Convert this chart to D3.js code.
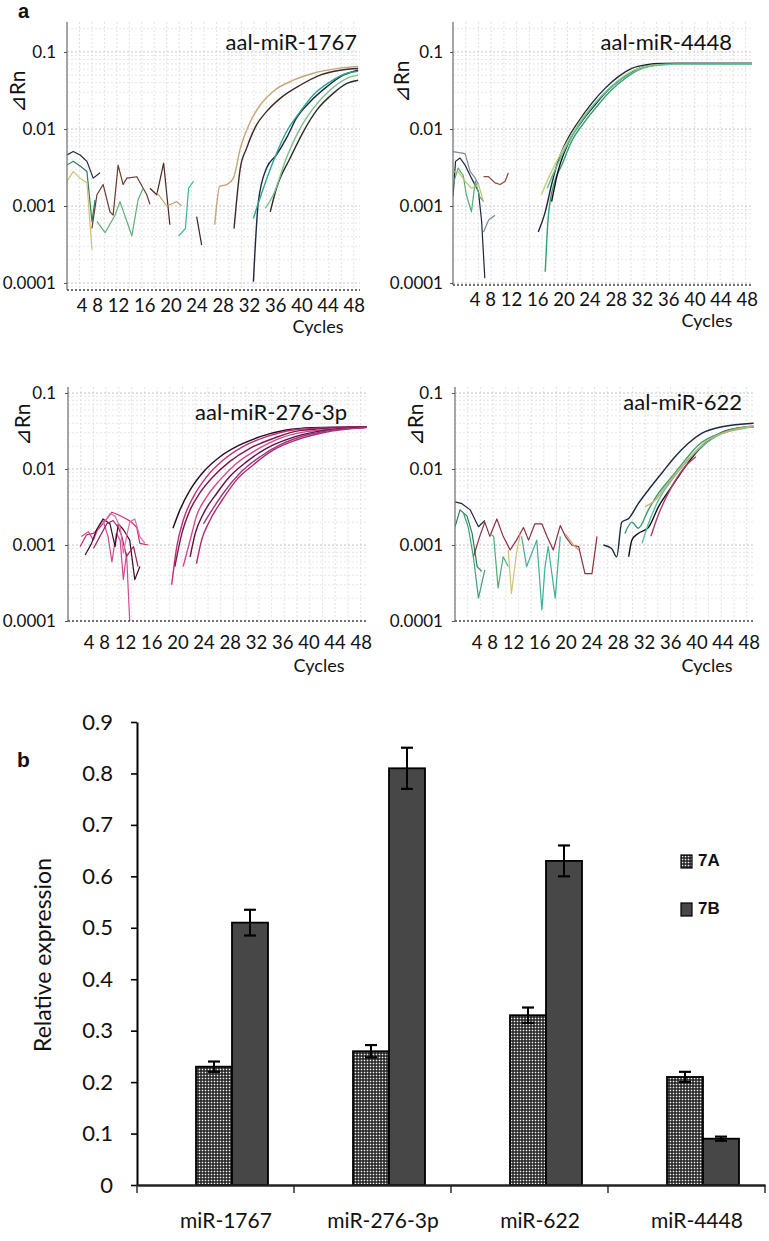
<!DOCTYPE html>
<html><head><meta charset="utf-8">
<script src="https://cdn.jsdelivr.net/npm/d3@7"></script>
<style>body{margin:0;background:#fff}</style>
</head><body><svg id="c" width="769" height="1241" xmlns="http://www.w3.org/2000/svg"></svg>
<script>
// ---------------- DATA ----------------
const cycleTicks = [4, 8, 12, 16, 20, 24, 28, 32, 36, 40, 44, 48];
const dRnTicks = [0.1, 0.01, 0.001, 0.0001];
const dRnTickLabels = ["0.1", "0.01", "0.001", "0.0001"];
const panelTitles = ["aal-miR-1767", "aal-miR-4448", "aal-miR-276-3p", "aal-miR-622"];

// aal-miR-1767 : [cycle, ΔRn]
const amp1767 = [
  [[24.7,0.00057],[25.5,0.0018],[26.6,0.0019],[27.7,0.0023],[28.8,0.0056],[30.4,0.0124],[32,0.0205],[34.1,0.031],[37.3,0.043],[40.5,0.053],[43.7,0.06],[47.7,0.065]],
  [[27.8,0.00051],[28.8,0.0031],[29.8,0.0056],[31.4,0.0113],[33,0.0168],[35.2,0.025],[38.4,0.037],[41.6,0.05],[44.8,0.058],[47.7,0.061]],
  [[30.9,0.000104],[31.7,0.00114],[33,0.0031],[34.6,0.0046],[36.2,0.0076],[37.8,0.0138],[40,0.0226],[42.7,0.0355],[45.3,0.05],[47.7,0.058]],
  [[30.9,0.00069],[32.5,0.0017],[34.1,0.0038],[36.2,0.0092],[38.4,0.0168],[40.5,0.0277],[43.2,0.041],[45.9,0.053],[47.7,0.056]],
  [[33.6,0.00084],[34.6,0.0017],[36.8,0.0042],[38.9,0.0092],[41.1,0.0177],[43.7,0.029],[45.9,0.039],[47.7,0.043]],
  [[32.8,0.00093],[34.1,0.0014],[36.2,0.0042],[38.4,0.0102],[40.5,0.0185],[43.2,0.032],[45.9,0.0455],[47.7,0.05]]
];
const base1767 = [
  [[1,0.0046],[2,0.0051],[3.1,0.0046],[4.2,0.0038],[5.2,0.0023],[6.3,0.0027]],
  [[1,0.0034],[2,0.0038],[3.1,0.0033],[4.2,0.0028],[5,0.00063],[5.5,0.0012]],
  [[1,0.0021],[2,0.0028],[3.1,0.0023],[4.2,0.002],[5,0.00027]],
  [[5,0.00051],[5.8,0.0014],[6.8,0.0019],[7.9,0.00084],[8.4,0.00076],[9.2,0.0034],[10,0.0019],[10.6,0.0023],[12.2,0.0024],[13.8,0.0014],[14.3,0.00105]],
  [[5.8,0.00063],[7.1,0.00045],[8.7,0.00076],[9.5,0.00114],[11.4,0.00041],[12.4,0.0012],[13.2,0.0017]],
  [[14.3,0.0017],[15.4,0.0014],[16.5,0.0036],[17.5,0.00057]],
  [[15.4,0.0015],[17,0.001],[18.6,0.00114],[19.4,0.001]],
  [[18.9,0.00041],[20,0.00051],[20.5,0.0017],[21.3,0.0021]],
  [[21.8,0.00073],[22.6,0.00031]]
];
// aal-miR-4448
const amp4448 = [
  [[14.4,0.00046],[15.5,0.00084],[16.5,0.0019],[17.5,0.0038],[19.1,0.0076],[20.7,0.0124],[22.8,0.0215],[24.9,0.0337],[27,0.0478],[29.1,0.0614],[31.2,0.068],[33.8,0.071],[48,0.071]],
  [[15.5,0.00014],[16,0.00076],[17,0.0021],[18.1,0.0034],[19.6,0.0068],[21.7,0.0124],[23.8,0.0205],[25.9,0.032],[28,0.045],[30.1,0.058],[32.2,0.066],[36.4,0.07],[48,0.07]],
  [[16.5,0.00114],[17.5,0.0028],[19.1,0.0065],[21.2,0.0124],[23.3,0.0205],[25.4,0.032],[27.5,0.045],[29.6,0.058],[32.2,0.068],[36.4,0.071],[48,0.071]],
  [[14.9,0.0014],[16,0.0023],[17.5,0.0041],[19.6,0.0083],[21.7,0.0152],[23.8,0.0239],[25.9,0.0355],[28,0.05],[30.6,0.063],[33.8,0.069],[48,0.07]],
  [[15.8,0.0017],[17,0.0029],[18.6,0.0055],[20.7,0.011],[22.8,0.019],[24.9,0.03],[27,0.042],[29.6,0.056],[32.2,0.066],[36,0.07],[48,0.07]]
];
const base4448 = [
  [[1,0.0051],[2.9,0.0048],[3.7,0.0028],[4.5,0.0023],[5,0.0019]],
  [[1,0.00132],[1.4,0.0038],[2.1,0.0042],[2.9,0.0034],[3.9,0.0023],[5,0.00154],[5.5,0.00063],[6,0.000115]],
  [[1,0.0019],[1.8,0.0031],[2.6,0.0025],[3.1,0.0014],[3.9,0.00084],[4.5,0.0021],[5.2,0.00132],[5.8,0.00114]],
  [[1,0.0028],[1.8,0.0028],[2.9,0.0021],[3.9,0.0017],[5,0.0019],[5.8,0.00114]],
  [[5.8,0.0024],[6.6,0.0024],[7.6,0.002],[8.4,0.0019],[9.2,0.0021],[9.7,0.0027]],
  [[5.8,0.00046],[6.6,0.00066],[7.6,0.00076]]
];
// aal-miR-276-3p
const amp276 = [
  [[17.5,0.00166],[18.6,0.0029],[20.2,0.0053],[22.3,0.0092],[24.9,0.0145],[28,0.0207],[31.2,0.0266],[35.3,0.0326],[39.5,0.035],[47.9,0.036]],
  [[17.3,0.0003],[18.1,0.00095],[19.1,0.0021],[20.7,0.0043],[22.8,0.0079],[25.4,0.0131],[28.5,0.0197],[32.2,0.0266],[36.4,0.0326],[41.6,0.035],[47.9,0.036]],
  [[17.8,0.00052],[18.9,0.00142],[20.2,0.0029],[21.7,0.0048],[23.8,0.0079],[26.4,0.0125],[29.6,0.0187],[33.3,0.0253],[37.4,0.032],[47.9,0.036]],
  [[19.1,0.00052],[20.2,0.00116],[21.2,0.0024],[22.8,0.0043],[24.9,0.0072],[27.5,0.0119],[30.6,0.0178],[34.3,0.0253],[38.5,0.031],[47.9,0.0355]],
  [[20.2,0.0007],[21,0.00142],[22.3,0.0026],[24.4,0.0048],[26.4,0.0079],[29.1,0.0125],[32.2,0.0187],[35.9,0.0253],[40.1,0.031],[47.9,0.0355]],
  [[21.2,0.00057],[22,0.00116],[23.3,0.0021],[25.4,0.0041],[27.5,0.0072],[30.1,0.0113],[33.3,0.0178],[36.9,0.0241],[41.1,0.03],[47.9,0.0353]],
  [[22.3,0.0019],[23.3,0.0026],[25.4,0.0048],[28,0.0088],[31.2,0.0145],[34.3,0.0207],[38.5,0.028],[42.7,0.0326],[47.9,0.035]]
];
const base276 = [
  [[2.9,0.00095],[3.9,0.00136],[5,0.00142],[6,0.0017],[7.1,0.0022],[7.9,0.0027],[8.9,0.0025],[10.2,0.0022],[11,0.002],[11.8,0.0017],[12.3,0.00105],[13.6,0.001]],
  [[3.1,0.00129],[4.2,0.0015],[5,0.00116],[5.8,0.0017],[6.5,0.0021],[7.3,0.00129],[7.9,0.0006],[8.6,0.00142],[9.2,0.00116],[9.7,0.00035],[10.2,0.00078],[10.7,0.0001]],
  [[3.7,0.00074],[4.7,0.00105],[5.5,0.0016],[6.5,0.0022],[7.6,0.0019],[8.4,0.00095],[8.9,0.0019],[9.7,0.0016],[10.7,0.00116],[11.5,0.00035],[12.3,0.00052]],
  [[5,0.0009],[6,0.00129],[7.1,0.0019],[8.1,0.0021],[8.9,0.0017],[9.4,0.00136],[10.2,0.00071],[11.3,0.00095],[12,0.00052]],
  [[6.5,0.0019],[7.6,0.0026],[8.4,0.0024],[9.2,0.0017],[9.7,0.00078],[10.2,0.00129],[10.7,0.002],[11.5,0.0022],[12.3,0.00129],[13.1,0.00105]]
];
// aal-miR-622
const amp622 = [
  [[24.4,0.001],[25.7,0.0009],[26.5,0.0007],[27.3,0.002],[28.4,0.00224],[29.9,0.0035],[31.5,0.0053],[33.6,0.0088],[35.7,0.0145],[37.8,0.0218],[39.9,0.0294],[43.1,0.036],[48.1,0.04]],
  [[28.4,0.0007],[28.9,0.00116],[29.9,0.00142],[31.5,0.0017],[33.1,0.0032],[35.2,0.0059],[37.3,0.0107],[39.4,0.0178],[41.5,0.0253],[44.2,0.0326],[48.1,0.036]],
  [[27.8,0.00142],[28.9,0.002],[29.9,0.00166],[31.5,0.0029],[33.1,0.0048],[35.2,0.0079],[37.3,0.0131],[39.4,0.0207],[42.1,0.028],[44.7,0.0333],[48.1,0.0368]],
  [[30.5,0.00105],[31.5,0.0019],[33.1,0.0039],[35.2,0.0072],[37.3,0.0119],[39.9,0.0197],[42.6,0.028],[45.2,0.0326],[48.1,0.036]],
  [[31,0.0032],[32.6,0.0039],[34.2,0.0059],[36.3,0.0097],[38.4,0.0153],[40.5,0.0228],[43.1,0.0294],[48.1,0.0368]],
  [[31.9,0.0013],[33,0.0024],[35.2,0.0059],[37.5,0.0112],[39,0.0145]]
];
const base622 = [
  [[1,0.0037],[2.1,0.0035],[3.4,0.0029],[4.7,0.00174],[5.7,0.0021]],
  [[1,0.00174],[1.8,0.0029],[2.9,0.0024],[3.7,0.00142],[4.5,0.00052],[5.2,0.00045]],
  [[3.9,0.0007],[4.9,0.0013],[5.7,0.002],[6.5,0.0013],[7.6,0.0022],[8.6,0.0013],[9.7,0.00086],[10.7,0.00116],[11.8,0.0017],[12.6,0.00116],[13.6,0.0019],[14.7,0.0019],[15.5,0.0013],[16.5,0.00086],[17.6,0.0018],[18.4,0.0013],[19.4,0.001],[20.5,0.00095],[21.5,0.00042],[22.6,0.00042],[23.4,0.0013]],
  [[2.3,0.0027],[3.1,0.0017],[3.9,0.0007],[4.7,0.0002],[5.7,0.00047]],
  [[6.5,0.0014],[7.1,0.0013],[7.8,0.00027],[8.6,0.0007],[9.4,0.00052]],
  [[9.4,0.00086],[9.9,0.00023],[10.7,0.00078],[11.3,0.0014]],
  [[11.5,0.0013],[12.3,0.00052],[13.1,0.00078],[13.9,0.00116],[14.7,0.00014],[15.2,0.00052],[15.7,0.00095],[16.8,0.0002],[17.6,0.0013]],
  [[18.4,0.0014],[19.7,0.001],[20.5,0.00086]]
];

// Bar chart (panel b)
const categories = ["miR-1767", "miR-276-3p", "miR-622", "miR-4448"];
const seriesNames = ["7A", "7B"];
const values7A = [0.23, 0.26, 0.33, 0.21];
const values7B = [0.51, 0.81, 0.63, 0.09];
const err7A = [0.01, 0.012, 0.015, 0.01];
const err7B = [0.025, 0.04, 0.03, 0.004];
const barTicks = [0, 0.1, 0.2, 0.3, 0.4, 0.5, 0.6, 0.7, 0.8, 0.9];
const barTickLabels = ["0", "0.1", "0.2", "0.3", "0.4", "0.5", "0.6", "0.7", "0.8", "0.9"];

// ---------------- STYLE / LAYOUT ----------------
const FONT = "Lato, 'Open Sans', sans-serif";
const svg = d3.select("#c");

const ampColors = {
  "1767": ["#c4a57a","#3b2a25","#1c2740","#2fa58c","#2b2b2b","#7cc08a"],
  "4448": ["#1c2740","#2fa070","#111111","#c8d27a","#5cc0a0"],
  "276":  ["#2a0a20","#c0307a","#7a1850","#d04a90","#5a1040","#b02870","#9a3a80"],
  "622":  ["#1c2740","#111111","#2fa070","#5cc0a0","#d0b070","#b03a6a"]
};
const baseColors = {
  "1767": ["#1c2740","#2e7d5b","#d0c070","#6b3a30","#5fae7a","#4a2a22","#c9a070","#3fb09a","#3a2520"],
  "4448": ["#7a8a99","#1c2740","#4caf7a","#c8c070","#8a4a3a","#6a8a99"],
  "276":  ["#c0307a","#d04a90","#3a0a28","#a02068","#e070a8"],
  "622":  ["#1c2740","#2e7d5b","#8a3040","#3fa07a","#4caf7a","#d0c070","#3fb09a","#d0a070"]
};

const panels = [
  {key:"1767", title:panelTitles[0], amp:amp1767, base:base1767,
   x0:67, x1:360, top:22, bottom:290, y4:283, y1:52, labelRight:56, rnX:20, rnY:92,
   titleRight:357, titleY:50, tickRight:365, tickY:307, cycX:318, cycY:328},
  {key:"4448", title:panelTitles[1], amp:amp4448, base:base4448,
   x0:453, x1:752, top:22, bottom:285, y4:283, y1:52, labelRight:443, rnX:404, rnY:82,
   titleRight:732, titleY:50, tickRight:758, tickY:301, cycX:707, cycY:322},
  {key:"276", title:panelTitles[2], amp:amp276, base:base276,
   x0:68, x1:367, top:387, bottom:621, y4:621, y1:393, labelRight:56, rnX:25, rnY:425,
   titleRight:347, titleY:420, tickRight:372, tickY:644, cycX:319, cycY:667},
  {key:"622", title:panelTitles[3], amp:amp622, base:base622,
   x0:455, x1:753, top:387, bottom:621, y4:621, y1:393, labelRight:443, rnX:418, rnY:425,
   titleRight:742, titleY:410, tickRight:760, tickY:644, cycX:707, cycY:667}
];

const defs = svg.append("defs");

panels.forEach((p, pi) => {
  const g = svg.append("g");
  const x = d3.scaleLinear().domain([1, 48]).range([p.x0, p.x1]);
  const y = d3.scaleLog().domain([1e-4, 0.1]).range([p.y4, p.y1]);
  const yMin = y.invert(p.bottom), yMax = y.invert(p.top);

  // grid
  const vg = d3.range(1, 49, 2);
  g.selectAll(".vg").data(vg).join("line")
    .attr("x1", d => x(d)).attr("x2", d => x(d))
    .attr("y1", p.top).attr("y2", p.bottom)
    .attr("stroke", "#dcdcdc").attr("stroke-width", 0.8).attr("stroke-dasharray", "2,2");
  const hg = [];
  [1e-5, 1e-4, 1e-3, 1e-2, 1e-1].forEach(dec => {
    for (let k = 1; k <= 9; k++) { const v = dec * k; if (v >= yMin && v <= yMax) hg.push(v); }
  });
  g.selectAll(".hg").data(hg).join("line")
    .attr("x1", p.x0).attr("x2", p.x1)
    .attr("y1", d => y(d)).attr("y2", d => y(d))
    .attr("stroke", d => (Math.abs(Math.log10(d) - Math.round(Math.log10(d))) < 1e-6) ? "#b8b8b8" : "#e0e0e0")
    .attr("stroke-width", 0.8).attr("stroke-dasharray", "2,2");

  // clip
  const cid = "clip" + pi;
  defs.append("clipPath").attr("id", cid).append("rect")
    .attr("x", p.x0).attr("y", p.top).attr("width", p.x1 - p.x0 + 2).attr("height", p.bottom - p.top);

  const lineSmooth = d3.line().x(d => x(d[0])).y(d => y(d[1])).curve(d3.curveMonotoneX);
  const lineRaw = d3.line().x(d => x(d[0])).y(d => y(d[1]));
  const cg = g.append("g").attr("clip-path", `url(#${cid})`);
  cg.selectAll(".base").data(p.base).join("path")
    .attr("d", lineRaw).attr("fill", "none")
    .attr("stroke", (d, i) => baseColors[p.key][i % baseColors[p.key].length])
    .attr("stroke-width", 1.2).attr("stroke-linejoin", "round");
  cg.selectAll(".amp").data(p.amp).join("path")
    .attr("d", lineSmooth).attr("fill", "none")
    .attr("stroke", (d, i) => ampColors[p.key][i % ampColors[p.key].length])
    .attr("stroke-width", 1.4);

  // axes lines
  g.append("line").attr("x1", p.x0).attr("x2", p.x0).attr("y1", p.top).attr("y2", p.bottom)
    .attr("stroke", "#7a7a7a").attr("stroke-width", 1.3);
  g.append("line").attr("x1", p.x0).attr("x2", p.x1).attr("y1", p.bottom).attr("y2", p.bottom)
    .attr("stroke", "#444").attr("stroke-width", 1.5).attr("stroke-dasharray", "2,2");

  // y tick labels
  const ya = g.append("g").attr("transform", `translate(${p.x0},0)`)
    .call(d3.axisLeft(y).tickValues(dRnTicks).tickFormat((d, i) => dRnTickLabels[i])
      .tickSizeInner(3).tickSizeOuter(0).tickPadding(p.x0 - p.labelRight - 3));
  ya.select(".domain").remove();
  ya.selectAll("line").attr("stroke", "#555");
  ya.selectAll("text").attr("font-family", FONT).attr("font-size", 17).attr("fill", "#111");

  // x tick labels (a run of text, as in the original)
  g.append("text").attr("x", p.tickRight).attr("y", p.tickY).attr("text-anchor", "end")
    .attr("dominant-baseline", "middle")
    .attr("font-family", FONT).attr("font-size", 18.5).attr("fill", "#111")
    .text(cycleTicks.join(" "));
  g.append("text").attr("x", p.cycX).attr("y", p.cycY).attr("text-anchor", "middle")
    .attr("dominant-baseline", "middle")
    .attr("font-family", FONT).attr("font-size", 18).attr("fill", "#111").text("Cycles");

  // ΔRn label
  g.append("text").attr("transform", `translate(${p.rnX},${p.rnY}) rotate(-90)`)
    .attr("text-anchor", "middle").attr("dominant-baseline", "middle")
    .attr("font-family", FONT).attr("font-size", 21).attr("fill", "#111").text("⊿Rn");

  // title
  g.append("text").attr("x", p.titleRight).attr("y", p.titleY).attr("text-anchor", "end")
    .attr("font-family", FONT).attr("font-size", 22).attr("fill", "#111").text(p.title);
});

svg.append("text").attr("x", 18).attr("y", 18).attr("font-family", "Arial, 'Liberation Sans', sans-serif")
  .attr("font-weight", "bold").attr("font-size", 20).attr("fill", "#111").text("a");

// ---------------- PANEL b ----------------
svg.append("text").attr("x", 17).attr("y", 767).attr("font-family", "Arial, 'Liberation Sans', sans-serif")
  .attr("font-weight", "bold").attr("font-size", 21).attr("fill", "#111").text("b");

const pat = defs.append("pattern").attr("id", "dots").attr("patternUnits", "userSpaceOnUse")
  .attr("width", 3).attr("height", 3);
pat.append("rect").attr("width", 3).attr("height", 3).attr("fill", "#1a1a1a");
pat.append("rect").attr("x", 0.7).attr("y", 0.7).attr("width", 1.6).attr("height", 1.6).attr("fill", "#f4f4f4");

const bx = d3.scaleBand().domain(categories).range([137, 765]);
const sx = d3.scaleBand().domain(seriesNames).range([59, 131]);
const by = d3.scaleLinear().domain([0, 0.9]).range([1185, 722]);
const seriesVals = {"7A": values7A, "7B": values7B};
const seriesErr = {"7A": err7A, "7B": err7B};
const seriesFill = {"7A": "url(#dots)", "7B": "#474747"};

const barData = [];
categories.forEach((c, i) => seriesNames.forEach(s => barData.push({c, s, v: seriesVals[s][i], e: seriesErr[s][i]})));

const bg = svg.append("g");
bg.selectAll("rect.bar").data(barData).join("rect")
  .attr("x", d => bx(d.c) + sx(d.s)).attr("width", sx.bandwidth())
  .attr("y", d => by(d.v)).attr("height", d => by(0) - by(d.v))
  .attr("fill", d => seriesFill[d.s]).attr("stroke", "#000").attr("stroke-width", 1.8);

// error bars
const cx = d => bx(d.c) + sx(d.s) + sx.bandwidth() / 2;
const eb = bg.selectAll("g.eb").data(barData).join("g");
eb.append("line").attr("x1", cx).attr("x2", cx)
  .attr("y1", d => by(d.v + d.e)).attr("y2", d => by(d.v - d.e)).attr("stroke", "#000").attr("stroke-width", 2);
eb.append("line").attr("x1", d => cx(d) - 6).attr("x2", d => cx(d) + 6)
  .attr("y1", d => by(d.v + d.e)).attr("y2", d => by(d.v + d.e)).attr("stroke", "#000").attr("stroke-width", 2.2);
eb.append("line").attr("x1", d => cx(d) - 6).attr("x2", d => cx(d) + 6)
  .attr("y1", d => by(d.v - d.e)).attr("y2", d => by(d.v - d.e)).attr("stroke", "#000").attr("stroke-width", 2.2);

// y axis
const yAx = svg.append("g").attr("transform", "translate(137,0)")
  .call(d3.axisLeft(by).tickValues(barTicks).tickFormat((d, i) => barTickLabels[i]).tickSizeInner(6).tickSizeOuter(0).tickPadding(18));
yAx.select(".domain").attr("stroke", "#000").attr("stroke-width", 2);
yAx.selectAll("line").attr("stroke", "#000").attr("stroke-width", 1.6);
yAx.selectAll("text").attr("font-family", FONT).attr("font-size", 22).attr("fill", "#111");

// x axis
const xAx = svg.append("g").attr("transform", "translate(0,1185)")
  .call(d3.axisBottom(bx).tickFormat("").tickSize(0));
xAx.select(".domain").attr("stroke", "#222").attr("stroke-width", 2.5);
const edges = categories.map(c => bx(c)).concat([bx(categories[categories.length - 1]) + bx.bandwidth()]);
svg.append("g").selectAll("line").data(edges).join("line")
  .attr("x1", d => d).attr("x2", d => d)
  .attr("y1", 1185).attr("y2", 1193).attr("stroke", "#222").attr("stroke-width", 1.4);
svg.append("g").selectAll("text").data(categories).join("text")
  .attr("x", d => bx(d) + (sx.range()[0] + sx.range()[1]) / 2 - 6)
  .attr("y", 1223).attr("text-anchor", "middle").attr("dominant-baseline", "middle")
  .attr("font-family", FONT).attr("font-size", 21).attr("fill", "#111").text(d => d);

svg.append("text").attr("transform", "translate(45,955) rotate(-90)")
  .attr("text-anchor", "middle").attr("dominant-baseline", "middle")
  .attr("font-family", FONT).attr("font-size", 23).attr("fill", "#111").text("Relative expression");

// legend
const lg = svg.append("g").selectAll("g").data(seriesNames).join("g")
  .attr("transform", (d, i) => `translate(681,${855 + i * 48})`);
lg.append("rect").attr("width", 11).attr("height", 13).attr("fill", d => seriesFill[d]).attr("stroke", "#000").attr("stroke-width", 1.2);
lg.append("text").attr("x", 17).attr("y", 7).attr("dominant-baseline", "middle")
  .attr("font-family", "Arial, 'Liberation Sans', sans-serif").attr("font-weight", "bold").attr("font-size", 17)
  .attr("fill", "#111").text(d => d);
</script>
</body></html>
